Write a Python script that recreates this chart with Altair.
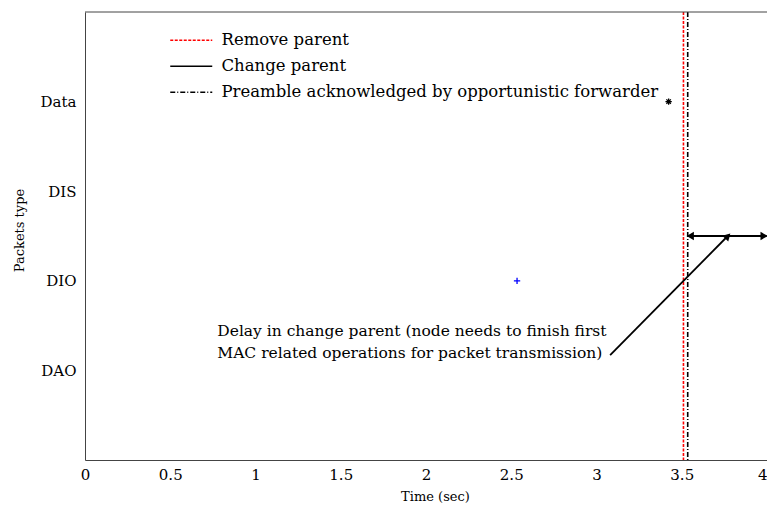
import altair as alt
import pandas as pd

# ---- data ----
categories = ["DAO", "DIO", "DIS", "Data"]          # y = 1..4
event_names = ["Remove parent", "Change parent",
               "Preamble acknowledged by opportunistic forwarder"]
event_x = [3.51, 4.04, 3.535]
event_colors = ["#ff0000", "#000000", "#000000"]
event_dash = [[3, 1.5], [1, 0], [5, 2, 1, 2]]

pkt_type = ["Data", "DIO"]
pkt_time = [3.423, 2.534]
pkt_color = ["#000000", "#0000ff"]
pkt_shape = ["M-1,0H1M0,-1V1M-0.7,-0.7L0.7,0.7M-0.7,0.7L0.7,-0.7", "M-1,0H1M0,-1V1"]

delay_start, delay_end, delay_y = 3.535, 3.998, 2.5
pointer_from = (3.08, 1.17)
pointer_to = (3.77, 2.5)
note_lines = ["Delay in change parent (node needs to finish first",
              "MAC related operations for packet transmission)"]
note_x = 0.776
note_y = [1.44, 1.19]
x_ticks = [0, 0.5, 1, 1.5, 2, 2.5, 3, 3.5, 4]

FONT = "DejaVu Serif"
W, H = 682, 448
xs = alt.Scale(domain=[0, 4.0], nice=False, zero=False)
ys = alt.Scale(domain=[0, 5], nice=False)

label_expr = " : ".join(
    f"datum.value == {i + 1} ? '{c}'" for i, c in enumerate(categories)) + " : ''"

xaxis = alt.Axis(values=x_ticks, title="Time (sec)",
                 labelExpr="datum.value", grid=False, ticks=False, domainColor="#444",
                 labelFont=FONT, labelFontSize=15, labelColor="black", labelPadding=7,
                 labelAlign=alt.condition("datum.value == 4", alt.value("right"),
                                          alt.value("center")),
                 labelBound=False, labelOverlap=False,
                 titleFont=FONT, titleFontSize=13, titleFontWeight="normal",
                 titleColor="black", titlePadding=8, titleX=350)
yaxis = alt.Axis(values=[1, 2, 3, 4], labelExpr=label_expr, title="Packets type",
                 grid=False, ticks=False, domainColor="#444",
                 labelFont=FONT, labelFontSize=15, labelColor="black", labelPadding=9,
                 titleFont=FONT, titleFontSize=13, titleFontWeight="normal",
                 titleColor="black", titlePadding=14, titleY=218)

events = pd.DataFrame({"event": event_names, "t": event_x})
rules = alt.Chart(events).mark_rule(strokeWidth=1.6, clip=True).encode(
    x=alt.X("t:Q", scale=xs, axis=xaxis),
    color=alt.Color("event:N", scale=alt.Scale(domain=event_names, range=event_colors),
                    legend=alt.Legend(title=None, orient="none", legendX=98, legendY=20,
                                      symbolType="M-3,0H3", symbolSize=196,
                                      symbolStrokeWidth=1.6, symbolFillColor="transparent",
                                      labelFont=FONT,
                                      labelFontSize=16.5, labelColor="black",
                                      labelLimit=700, rowPadding=9, labelOffset=22,
                                      padding=0)),
    strokeDash=alt.StrokeDash("event:N",
                              scale=alt.Scale(domain=event_names, range=event_dash)),
)

pk = pd.DataFrame({"type": pkt_type, "t": pkt_time, "c": pkt_color, "s": pkt_shape,
                   "y": [categories.index(p) + 1 for p in pkt_type]})
points = alt.Chart(pk).mark_point(filled=False, size=40, strokeWidth=1.3,
                                  opacity=1).encode(
    x=alt.X("t:Q", scale=xs),
    y=alt.Y("y:Q", scale=ys, axis=yaxis),
    shape=alt.Shape("s:N", scale=None),
    stroke=alt.Stroke("c:N", scale=None),
)

delay = pd.DataFrame({"x": [delay_start], "x2": [delay_end], "y": [delay_y]})
delay_line = alt.Chart(delay).mark_rule(strokeWidth=2, color="black").encode(
    x=alt.X("x:Q", scale=xs), x2="x2:Q", y=alt.Y("y:Q", scale=ys))
heads = pd.DataFrame({"x": [delay_start + 0.015, delay_end - 0.015],
                      "y": [delay_y, delay_y],
                      "s": ["triangle-left", "triangle-right"]})
delay_heads = alt.Chart(heads).mark_point(filled=True, size=70, color="black",
                                          opacity=1).encode(
    x=alt.X("x:Q", scale=xs), y=alt.Y("y:Q", scale=ys),
    shape=alt.Shape("s:N", scale=None))

ptr = pd.DataFrame({"x": [pointer_from[0]], "y": [pointer_from[1]],
                    "x2": [pointer_to[0]], "y2": [pointer_to[1]]})
ptr_line = alt.Chart(ptr).mark_rule(strokeWidth=1.8, color="black").encode(
    x=alt.X("x:Q", scale=xs), y=alt.Y("y:Q", scale=ys), x2="x2:Q", y2="y2:Q")
ptr_head = alt.Chart(ptr).mark_point(shape="triangle-up", filled=True, size=70,
                                     color="black", opacity=1, angle=44).encode(
    x=alt.X("x2:Q", scale=xs), y=alt.Y("y2:Q", scale=ys))

note = pd.DataFrame({"x": [note_x, note_x], "y": note_y, "text": note_lines})
note_text = alt.Chart(note).mark_text(align="left", baseline="middle", font=FONT,
                                      fontSize=15.5, color="black").encode(
    x=alt.X("x:Q", scale=xs), y=alt.Y("y:Q", scale=ys), text="text:N")

top_border = alt.Chart(delay).mark_rule(color="#444", strokeWidth=1).encode(
    x=alt.value(0), x2=alt.value(W), y=alt.value(0))

chart = alt.layer(rules, points, delay_line, delay_heads, ptr_line, ptr_head,
                  note_text, top_border).resolve_scale(
    color="independent", shape="independent", stroke="independent",
    strokeDash="independent"
).properties(
    width=W, height=H,
    autosize=alt.AutoSizeParams(type="none"),
    padding={"left": 77, "top": 4, "right": 0, "bottom": 46},
    background="white",
).configure_view(stroke=None)

chart.save("out.html", embed_options={"renderer": "svg", "actions": False})
